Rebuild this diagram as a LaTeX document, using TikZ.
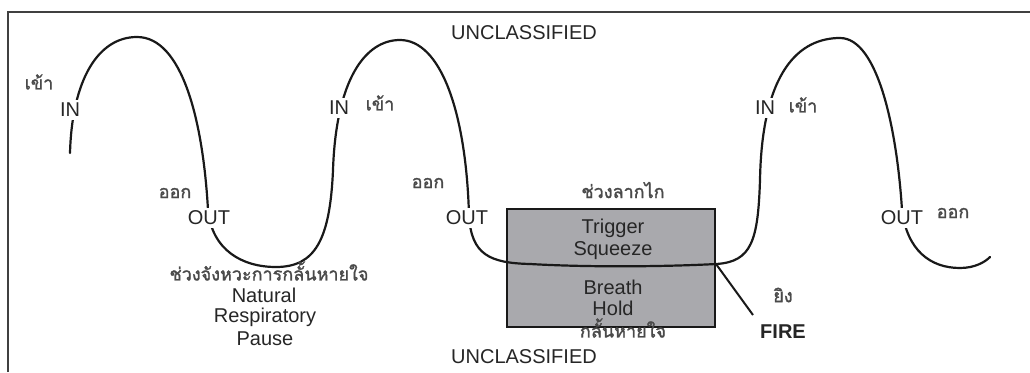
\documentclass[tikz,border=0pt]{standalone}
\usepackage{fontspec}
\setmainfont{Liberation Sans}
\newfontfamily\thaifont[Script=Thai, FakeBold=1.6]{Loma}
\definecolor{txt}{HTML}{262626}
\definecolor{thaitxt}{HTML}{4A4A4A}
\definecolor{boxfill}{HTML}{A9A9AD}
\tikzset{
  lbl/.style={font=\fontsize{20}{23}\selectfont, text=txt, inner sep=2pt},
  gaplbl/.style={lbl, fill=white, inner sep=3pt},
  thlbl/.style={font=\thaifont\fontsize{18}{21}\selectfont, text=thaitxt, inner sep=1pt},
  wave/.style={draw=black!90, line width=2.2pt, line cap=round},
  frame/.style={draw=black!75, line width=2pt},
}
\begin{document}
\begin{tikzpicture}[x=1pt,y=-1pt]
\useasboundingbox (0,0) rectangle (1030,372);
% frame
\coordinate (fbl) at (8,372);
\coordinate (ftl) at (8,12);
\coordinate (ftr) at (1030,12);
\draw[frame] (fbl) -- (ftl) -- (ftr);
% box
\node[draw=black!90, line width=2pt, fill=boxfill, minimum width=208pt, minimum height=118pt, inner sep=0pt] (box) at (611,268) {};
% wave
\coordinate (w0) at (70,153);
\coordinate (p1) at (137,37);
\coordinate (o1) at (208,210);
\coordinate (t1) at (276,267);
\coordinate (i2) at (333,170);
\coordinate (p2) at (400,40);
\coordinate (o2) at (469,215);
\coordinate (b1) at (530,264);
\coordinate (fire) at (716,264);
\coordinate (i3) at (760,180);
\coordinate (p3) at (840,38);
\coordinate (o3) at (902,210);
\coordinate (t3) at (960,268);
\coordinate (wend) at (990,257);
\draw[wave] (w0) .. controls (72,80) and (98,37) .. (p1)
  .. controls (182,37) and (203,120) .. (o1)
  .. controls (212,250) and (242,267) .. (t1)
  .. controls (315,267) and (330,240) .. (i2)
  .. controls (336,80) and (365,40) .. (p2)
  .. controls (440,40) and (466,110) .. (o2)
  .. controls (471,255) and (490,263) .. (b1)
  .. controls (600,268) and (680,266) .. (fire)
  .. controls (752,262) and (758,240) .. (i3)
  .. controls (762,70) and (800,38) .. (p3)
  .. controls (878,38) and (897,130) .. (o3)
  .. controls (907,250) and (930,268) .. (t3)
  .. controls (975,268) and (985,262) .. (wend);
% fire line
\node[lbl, font=\bfseries\fontsize{20}{23}\selectfont] (firel) at (783,332) {FIRE};
\coordinate (fireend) at (753,315);
\draw[line width=2pt, draw=black!90] (fire) -- (fireend);
\node[thlbl] (ying) at (783,295) {ยิง};
% IN / OUT labels
\node[gaplbl] (in1) at (70,110) {IN};
\node[gaplbl] (in2) at (339,108) {IN};
\node[gaplbl] (in3) at (765,108) {IN};
\node[gaplbl] (out1) at (209,218) {OUT};
\node[gaplbl] (out2) at (467,218) {OUT};
\node[gaplbl] (out3) at (902,218) {OUT};
% Thai labels
\node[thlbl] (khao1) at (39,82) {เข้า};
\node[thlbl] (khao2) at (380,103) {เข้า};
\node[thlbl] (khao3) at (803,105) {เข้า};
\node[thlbl] (ok1) at (175,193) {ออก};
\node[thlbl] (ok2) at (428,183) {ออก};
\node[thlbl] (ok3) at (953,213) {ออก};
% pause
\node[thlbl] (pauseth) at (269,271) {ช่วงจังหวะการกลั้นหายใจ};
\node[lbl] (nat) at (264,295) {Natural};
\node[lbl] (resp) at (265,317) {Respiratory};
\node[lbl] (pause) at (265,339) {Pause};
% box texts
\node[thlbl] (trigth) at (623,190) {ช่วงลากไก};
\node[lbl] (trig) at (613,228) {Trigger};
\node[lbl] (squ) at (613,251) {Squeeze};
\node[lbl] (brea) at (613,287) {Breath};
\node[lbl] (hold) at (613,308) {Hold};
\node[thlbl] (holdth) at (623,328) {กลั้นหายใจ};
% unclassified
\node[lbl] (uctop) at (524,33) {UNCLASSIFIED};
\node[lbl] (ucbot) at (524,357) {UNCLASSIFIED};
\end{tikzpicture}
\end{document}
